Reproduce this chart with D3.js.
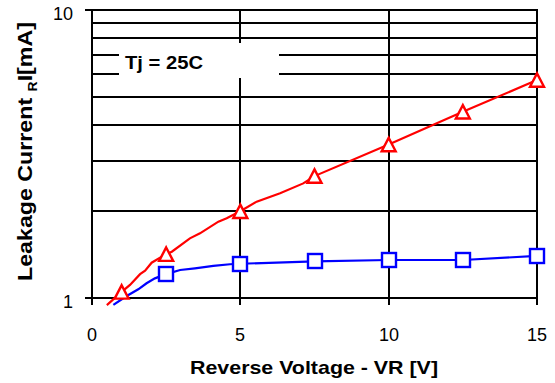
<!DOCTYPE html>
<html>
<head>
<meta charset="utf-8">
<script src="https://cdn.jsdelivr.net/npm/d3@7"></script>
<style>
  html, body { margin: 0; padding: 0; background: #fff; }
  svg { display: block; font-family: "Liberation Sans", Arial, sans-serif; }
</style>
</head>
<body>
<svg id="chart" width="555" height="383"></svg>
<script>
// ---- data ----
const xTicks = [0, 5, 10, 15];
const yTickLabels = [1, 10];
const yGrid = [2, 3, 4, 5, 6, 7, 8, 9, 10];

// red series (line path incl. intermediate points)
const redV = [0.5, 1, 1.28, 1.62, 1.79, 2.01, 2.5, 2.69, 3.30, 3.64, 4.26, 4.54, 5, 5.55, 6.34, 7.12, 7.5, 10, 12.5, 15];
const redI = [0.945, 1.05, 1.11, 1.21, 1.244, 1.326, 1.42, 1.448, 1.611, 1.677, 1.841, 1.892, 2.0, 2.16, 2.31, 2.50, 2.65, 3.41, 4.43, 5.71];
const redMarkV = [1, 2.5, 5, 7.5, 10, 12.5, 15];
const redMarkI = [1.05, 1.42, 2.0, 2.65, 3.41, 4.43, 5.71];

// blue series
const blueV = [0.72, 1.17, 1.56, 1.84, 2.12, 2.5, 2.97, 3.47, 4.09, 4.65, 5, 7.5, 10, 12.5, 15];
const blueI = [0.946, 1.016, 1.072, 1.125, 1.17, 1.21, 1.251, 1.268, 1.292, 1.31, 1.315, 1.34, 1.355, 1.355, 1.40];
const blueMarkV = [2.5, 5, 7.5, 10, 12.5, 15];
const blueMarkI = [1.21, 1.315, 1.34, 1.355, 1.355, 1.40];

const xTitle = "Reverse Voltage - VR [V]";
const yTitleParts = ["Leakage Current ", "R", "I[mA]"];
const noteText = "Tj = 25C";

// ---- layout ----
const svg = d3.select("#chart");
const L = 92, R = 537, T = 10, B = 298;
const x = d3.scaleLinear().domain([0, 15]).range([L, R]);
const y = d3.scaleLog().domain([1, 10]).range([B, T]);
const rx = d => Math.round(x(d));
const ry = d => Math.round(y(d));

const g = svg.append("g");

// horizontal gridlines
g.selectAll("line.hg").data(yGrid).enter().append("line")
  .attr("x1", L).attr("x2", R)
  .attr("y1", ry).attr("y2", ry)
  .attr("stroke", "#000").attr("stroke-width", 2);

// vertical gridlines (5, 10, 15)
g.selectAll("line.vg").data(xTicks.slice(1)).enter().append("line")
  .attr("x1", rx).attr("x2", rx)
  .attr("y1", T).attr("y2", B)
  .attr("stroke", "#000").attr("stroke-width", 2);

// white note box covering gridlines
g.append("rect").attr("x", 119).attr("y", 43).attr("width", 160).attr("height", 35).attr("fill", "#fff");
g.append("text").attr("x", 125).attr("y", 69)
  .attr("font-size", 18).attr("font-weight", "bold")
  .attr("textLength", 78).attr("lengthAdjust", "spacingAndGlyphs")
  .text(noteText);

// y axis (left)
const yAxis = d3.axisLeft(y).tickValues(yTickLabels).tickSize(7).tickFormat(d3.format("d")).tickPadding(12);
const ya = svg.append("g").attr("transform", `translate(${L},0)`).call(yAxis);
ya.selectAll(".tick").attr("transform", d => `translate(0,${ry(d)})`);
ya.select(".domain").attr("stroke", "#000").attr("stroke-width", 2).attr("d", `M0,${T - 1}V${B + 1}`);
ya.selectAll(".tick line").attr("stroke", "#000").attr("stroke-width", 2);
ya.selectAll(".tick text").attr("font-size", 18).attr("font-family", "Liberation Sans, Arial, sans-serif")
  .attr("fill", "#000").attr("dy", "0.72em").attr("y", -3);

// x axis (bottom)
const xAxis = d3.axisBottom(x).tickValues(xTicks).tickSize(7).tickPadding(23);
const xa = svg.append("g").attr("transform", `translate(0,${B})`).call(xAxis);
xa.selectAll(".tick").attr("transform", d => `translate(${rx(d)},0)`);
xa.select(".domain").attr("stroke", "#000").attr("stroke-width", 2).attr("d", `M${L - 7},0H${R + 1}`);
xa.selectAll(".tick line").attr("stroke", "#000").attr("stroke-width", 2);
xa.selectAll(".tick text").attr("font-size", 18).attr("font-family", "Liberation Sans, Arial, sans-serif").attr("fill", "#000");

// top line at 10 extends left like a tick
svg.append("line").attr("x1", L - 7).attr("x2", R + 1).attr("y1", ry(10)).attr("y2", ry(10))
  .attr("stroke", "#000").attr("stroke-width", 2);

// series
svg.append("clipPath").attr("id", "clip").append("rect")
  .attr("x", L).attr("y", 0).attr("width", R - L + 20).attr("height", 307);

const line = d3.line().x(d => x(d[0])).y(d => y(d[1]));
const redPts = redV.map((v, i) => [v, redI[i]]);
const bluePts = blueV.map((v, i) => [v, blueI[i]]);

const sg = svg.append("g").attr("clip-path", "url(#clip)");
sg.append("path").datum(bluePts).attr("d", line).attr("fill", "none").attr("stroke", "#0000ff").attr("stroke-width", 2.2);
sg.append("path").datum(redPts).attr("d", line).attr("fill", "none").attr("stroke", "#ff0000").attr("stroke-width", 2.2);

// markers
svg.selectAll("rect.sq").data(blueMarkV.map((v, i) => [v, blueMarkI[i]])).enter().append("rect")
  .attr("x", d => Math.round(x(d[0])) - 7).attr("y", d => Math.round(y(d[1])) - 7)
  .attr("width", 14).attr("height", 14)
  .attr("fill", "#fff").attr("stroke", "#0000ff").attr("stroke-width", 2.4);

svg.selectAll("path.tri").data(redMarkV.map((v, i) => [v, redMarkI[i]])).enter().append("path")
  .attr("transform", d => `translate(${x(d[0])},${y(d[1])})`)
  .attr("d", "M0,-6.7L7,6.7L-7,6.7Z")
  .attr("fill", "#fff").attr("stroke", "#ff0000").attr("stroke-width", 2.4).attr("stroke-linejoin", "miter");

// axis titles
svg.append("text").attr("x", 190).attr("y", 374)
  .attr("font-size", 19).attr("font-weight", "bold")
  .attr("textLength", 248).attr("lengthAdjust", "spacingAndGlyphs")
  .text(xTitle);

const yt = svg.append("text")
  .attr("transform", "translate(32,281) rotate(-90)")
  .attr("font-size", 20).attr("font-weight", "bold")
  .attr("textLength", 259).attr("lengthAdjust", "spacingAndGlyphs");
yt.append("tspan").text(yTitleParts[0]);
yt.append("tspan").attr("font-size", 12).attr("dy", 5).text(yTitleParts[1]);
yt.append("tspan").attr("dy", -5).text(yTitleParts[2]);
</script>
</body>
</html>
